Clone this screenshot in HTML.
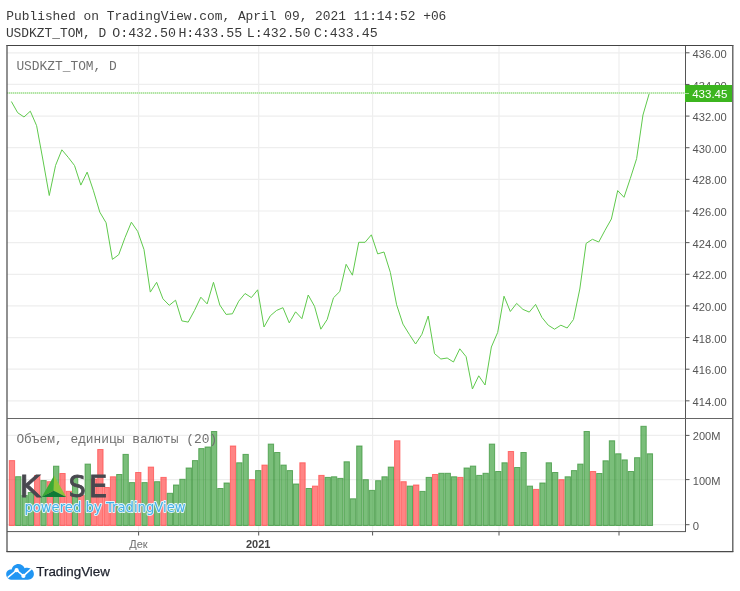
<!DOCTYPE html>
<html><head><meta charset="utf-8"><title>USDKZT_TOM</title><style>html,body{margin:0;padding:0;background:#fff;width:740px;height:591px;overflow:hidden;position:relative}</style></head><body>
<svg width="740" height="591" viewBox="0 0 740 591" style="position:absolute;left:0;top:0;will-change:transform">
<text x="6.3" y="19.6" textLength="440.04" lengthAdjust="spacingAndGlyphs" style="font-family:'Liberation Mono','DejaVu Sans Mono',monospace;font-size:13.6px" fill="#3a3a3a">Published on TradingView.com, April 09, 2021 11:14:52 +06</text>
<text x="5.9" y="37" textLength="100.36" lengthAdjust="spacingAndGlyphs" style="font-family:'Liberation Mono','DejaVu Sans Mono',monospace;font-size:13.6px" fill="#3a3a3a">USDKZT_TOM, D</text>
<text x="112.2" y="37" textLength="63.76" lengthAdjust="spacingAndGlyphs" style="font-family:'Liberation Mono','DejaVu Sans Mono',monospace;font-size:13.6px" fill="#3a3a3a">O:432.50</text>
<text x="178.4" y="37" textLength="63.76" lengthAdjust="spacingAndGlyphs" style="font-family:'Liberation Mono','DejaVu Sans Mono',monospace;font-size:13.6px" fill="#3a3a3a">H:433.55</text>
<text x="246.8" y="37" textLength="63.76" lengthAdjust="spacingAndGlyphs" style="font-family:'Liberation Mono','DejaVu Sans Mono',monospace;font-size:13.6px" fill="#3a3a3a">L:432.50</text>
<text x="313.9" y="37" textLength="63.76" lengthAdjust="spacingAndGlyphs" style="font-family:'Liberation Mono','DejaVu Sans Mono',monospace;font-size:13.6px" fill="#3a3a3a">C:433.45</text>
<line x1="7" y1="52.80" x2="685" y2="52.80" stroke="#eeeeee" stroke-width="1.2"/>
<line x1="7" y1="84.44" x2="685" y2="84.44" stroke="#eeeeee" stroke-width="1.2"/>
<line x1="7" y1="116.08" x2="685" y2="116.08" stroke="#eeeeee" stroke-width="1.2"/>
<line x1="7" y1="147.72" x2="685" y2="147.72" stroke="#eeeeee" stroke-width="1.2"/>
<line x1="7" y1="179.36" x2="685" y2="179.36" stroke="#eeeeee" stroke-width="1.2"/>
<line x1="7" y1="211.00" x2="685" y2="211.00" stroke="#eeeeee" stroke-width="1.2"/>
<line x1="7" y1="242.64" x2="685" y2="242.64" stroke="#eeeeee" stroke-width="1.2"/>
<line x1="7" y1="274.28" x2="685" y2="274.28" stroke="#eeeeee" stroke-width="1.2"/>
<line x1="7" y1="305.92" x2="685" y2="305.92" stroke="#eeeeee" stroke-width="1.2"/>
<line x1="7" y1="337.56" x2="685" y2="337.56" stroke="#eeeeee" stroke-width="1.2"/>
<line x1="7" y1="369.20" x2="685" y2="369.20" stroke="#eeeeee" stroke-width="1.2"/>
<line x1="7" y1="400.84" x2="685" y2="400.84" stroke="#eeeeee" stroke-width="1.2"/>
<line x1="7" y1="435.4" x2="685" y2="435.4" stroke="#eeeeee" stroke-width="1.2"/>
<line x1="7" y1="479.6" x2="685" y2="479.6" stroke="#eeeeee" stroke-width="1.2"/>
<line x1="7" y1="524.7" x2="685" y2="524.7" stroke="#eeeeee" stroke-width="1.2"/>
<line x1="138.6" y1="46" x2="138.6" y2="531" stroke="#eeeeee" stroke-width="1.2"/>
<line x1="258.7" y1="46" x2="258.7" y2="531" stroke="#eeeeee" stroke-width="1.2"/>
<line x1="372.6" y1="46" x2="372.6" y2="531" stroke="#eeeeee" stroke-width="1.2"/>
<line x1="499.0" y1="46" x2="499.0" y2="531" stroke="#eeeeee" stroke-width="1.2"/>
<line x1="619.0" y1="46" x2="619.0" y2="531" stroke="#eeeeee" stroke-width="1.2"/>
<rect x="9.30" y="460.60" width="5.32" height="64.90" fill="rgba(255,80,80,0.7)" stroke="rgba(255,70,70,0.7)" stroke-width="1"/>
<rect x="15.62" y="476.70" width="5.32" height="48.80" fill="rgba(70,165,70,0.72)" stroke="rgba(60,150,60,0.75)" stroke-width="1"/>
<rect x="21.93" y="495.50" width="5.32" height="30.00" fill="rgba(70,165,70,0.72)" stroke="rgba(60,150,60,0.75)" stroke-width="1"/>
<rect x="28.25" y="492.50" width="5.32" height="33.00" fill="rgba(70,165,70,0.72)" stroke="rgba(60,150,60,0.75)" stroke-width="1"/>
<rect x="34.56" y="475.50" width="5.32" height="50.00" fill="rgba(255,80,80,0.7)" stroke="rgba(255,70,70,0.7)" stroke-width="1"/>
<rect x="40.88" y="480.60" width="5.32" height="44.90" fill="rgba(70,165,70,0.72)" stroke="rgba(60,150,60,0.75)" stroke-width="1"/>
<rect x="47.20" y="481.70" width="5.32" height="43.80" fill="rgba(255,80,80,0.7)" stroke="rgba(255,70,70,0.7)" stroke-width="1"/>
<rect x="53.51" y="466.20" width="5.32" height="59.30" fill="rgba(70,165,70,0.72)" stroke="rgba(60,150,60,0.75)" stroke-width="1"/>
<rect x="59.83" y="473.50" width="5.32" height="52.00" fill="rgba(255,80,80,0.7)" stroke="rgba(255,70,70,0.7)" stroke-width="1"/>
<rect x="66.14" y="491.30" width="5.32" height="34.20" fill="rgba(255,80,80,0.7)" stroke="rgba(255,70,70,0.7)" stroke-width="1"/>
<rect x="72.46" y="477.80" width="5.32" height="47.70" fill="rgba(70,165,70,0.72)" stroke="rgba(60,150,60,0.75)" stroke-width="1"/>
<rect x="78.78" y="495.50" width="5.32" height="30.00" fill="rgba(255,80,80,0.7)" stroke="rgba(255,70,70,0.7)" stroke-width="1"/>
<rect x="85.09" y="464.10" width="5.32" height="61.40" fill="rgba(70,165,70,0.72)" stroke="rgba(60,150,60,0.75)" stroke-width="1"/>
<rect x="91.41" y="479.00" width="5.32" height="46.50" fill="rgba(255,80,80,0.7)" stroke="rgba(255,70,70,0.7)" stroke-width="1"/>
<rect x="97.72" y="449.50" width="5.32" height="76.00" fill="rgba(255,80,80,0.7)" stroke="rgba(255,70,70,0.7)" stroke-width="1"/>
<rect x="104.04" y="487.50" width="5.32" height="38.00" fill="rgba(255,80,80,0.7)" stroke="rgba(255,70,70,0.7)" stroke-width="1"/>
<rect x="110.36" y="476.80" width="5.32" height="48.70" fill="rgba(255,80,80,0.7)" stroke="rgba(255,70,70,0.7)" stroke-width="1"/>
<rect x="116.67" y="474.50" width="5.32" height="51.00" fill="rgba(70,165,70,0.72)" stroke="rgba(60,150,60,0.75)" stroke-width="1"/>
<rect x="122.99" y="454.40" width="5.32" height="71.10" fill="rgba(70,165,70,0.72)" stroke="rgba(60,150,60,0.75)" stroke-width="1"/>
<rect x="129.30" y="482.60" width="5.32" height="42.90" fill="rgba(70,165,70,0.72)" stroke="rgba(60,150,60,0.75)" stroke-width="1"/>
<rect x="135.62" y="472.50" width="5.32" height="53.00" fill="rgba(255,80,80,0.7)" stroke="rgba(255,70,70,0.7)" stroke-width="1"/>
<rect x="141.94" y="482.60" width="5.32" height="42.90" fill="rgba(70,165,70,0.72)" stroke="rgba(60,150,60,0.75)" stroke-width="1"/>
<rect x="148.25" y="467.10" width="5.32" height="58.40" fill="rgba(255,80,80,0.7)" stroke="rgba(255,70,70,0.7)" stroke-width="1"/>
<rect x="154.57" y="481.70" width="5.32" height="43.80" fill="rgba(70,165,70,0.72)" stroke="rgba(60,150,60,0.75)" stroke-width="1"/>
<rect x="160.88" y="477.40" width="5.32" height="48.10" fill="rgba(255,80,80,0.7)" stroke="rgba(255,70,70,0.7)" stroke-width="1"/>
<rect x="167.20" y="493.30" width="5.32" height="32.20" fill="rgba(70,165,70,0.72)" stroke="rgba(60,150,60,0.75)" stroke-width="1"/>
<rect x="173.52" y="485.00" width="5.32" height="40.50" fill="rgba(70,165,70,0.72)" stroke="rgba(60,150,60,0.75)" stroke-width="1"/>
<rect x="179.83" y="479.30" width="5.32" height="46.20" fill="rgba(70,165,70,0.72)" stroke="rgba(60,150,60,0.75)" stroke-width="1"/>
<rect x="186.15" y="468.00" width="5.32" height="57.50" fill="rgba(70,165,70,0.72)" stroke="rgba(60,150,60,0.75)" stroke-width="1"/>
<rect x="192.46" y="460.60" width="5.32" height="64.90" fill="rgba(70,165,70,0.72)" stroke="rgba(60,150,60,0.75)" stroke-width="1"/>
<rect x="198.78" y="448.60" width="5.32" height="76.90" fill="rgba(70,165,70,0.72)" stroke="rgba(60,150,60,0.75)" stroke-width="1"/>
<rect x="205.10" y="447.00" width="5.32" height="78.50" fill="rgba(70,165,70,0.72)" stroke="rgba(60,150,60,0.75)" stroke-width="1"/>
<rect x="211.41" y="431.50" width="5.32" height="94.00" fill="rgba(70,165,70,0.72)" stroke="rgba(60,150,60,0.75)" stroke-width="1"/>
<rect x="217.73" y="488.50" width="5.32" height="37.00" fill="rgba(70,165,70,0.72)" stroke="rgba(60,150,60,0.75)" stroke-width="1"/>
<rect x="224.04" y="483.00" width="5.32" height="42.50" fill="rgba(70,165,70,0.72)" stroke="rgba(60,150,60,0.75)" stroke-width="1"/>
<rect x="230.36" y="446.00" width="5.32" height="79.50" fill="rgba(255,80,80,0.7)" stroke="rgba(255,70,70,0.7)" stroke-width="1"/>
<rect x="236.68" y="462.80" width="5.32" height="62.70" fill="rgba(70,165,70,0.72)" stroke="rgba(60,150,60,0.75)" stroke-width="1"/>
<rect x="242.99" y="454.40" width="5.32" height="71.10" fill="rgba(70,165,70,0.72)" stroke="rgba(60,150,60,0.75)" stroke-width="1"/>
<rect x="249.31" y="479.70" width="5.32" height="45.80" fill="rgba(255,80,80,0.7)" stroke="rgba(255,70,70,0.7)" stroke-width="1"/>
<rect x="255.62" y="470.60" width="5.32" height="54.90" fill="rgba(70,165,70,0.72)" stroke="rgba(60,150,60,0.75)" stroke-width="1"/>
<rect x="261.94" y="465.10" width="5.32" height="60.40" fill="rgba(255,80,80,0.7)" stroke="rgba(255,70,70,0.7)" stroke-width="1"/>
<rect x="268.26" y="444.10" width="5.32" height="81.40" fill="rgba(70,165,70,0.72)" stroke="rgba(60,150,60,0.75)" stroke-width="1"/>
<rect x="274.57" y="452.50" width="5.32" height="73.00" fill="rgba(70,165,70,0.72)" stroke="rgba(60,150,60,0.75)" stroke-width="1"/>
<rect x="280.89" y="465.10" width="5.32" height="60.40" fill="rgba(70,165,70,0.72)" stroke="rgba(60,150,60,0.75)" stroke-width="1"/>
<rect x="287.20" y="470.60" width="5.32" height="54.90" fill="rgba(70,165,70,0.72)" stroke="rgba(60,150,60,0.75)" stroke-width="1"/>
<rect x="293.52" y="484.00" width="5.32" height="41.50" fill="rgba(70,165,70,0.72)" stroke="rgba(60,150,60,0.75)" stroke-width="1"/>
<rect x="299.84" y="462.80" width="5.32" height="62.70" fill="rgba(255,80,80,0.7)" stroke="rgba(255,70,70,0.7)" stroke-width="1"/>
<rect x="306.15" y="488.50" width="5.32" height="37.00" fill="rgba(70,165,70,0.72)" stroke="rgba(60,150,60,0.75)" stroke-width="1"/>
<rect x="312.47" y="486.10" width="5.32" height="39.40" fill="rgba(255,80,80,0.7)" stroke="rgba(255,70,70,0.7)" stroke-width="1"/>
<rect x="318.78" y="475.40" width="5.32" height="50.10" fill="rgba(255,80,80,0.7)" stroke="rgba(255,70,70,0.7)" stroke-width="1"/>
<rect x="325.10" y="477.40" width="5.32" height="48.10" fill="rgba(70,165,70,0.72)" stroke="rgba(60,150,60,0.75)" stroke-width="1"/>
<rect x="331.42" y="476.80" width="5.32" height="48.70" fill="rgba(70,165,70,0.72)" stroke="rgba(60,150,60,0.75)" stroke-width="1"/>
<rect x="337.73" y="478.40" width="5.32" height="47.10" fill="rgba(70,165,70,0.72)" stroke="rgba(60,150,60,0.75)" stroke-width="1"/>
<rect x="344.05" y="461.80" width="5.32" height="63.70" fill="rgba(70,165,70,0.72)" stroke="rgba(60,150,60,0.75)" stroke-width="1"/>
<rect x="350.36" y="498.80" width="5.32" height="26.70" fill="rgba(70,165,70,0.72)" stroke="rgba(60,150,60,0.75)" stroke-width="1"/>
<rect x="356.68" y="446.00" width="5.32" height="79.50" fill="rgba(70,165,70,0.72)" stroke="rgba(60,150,60,0.75)" stroke-width="1"/>
<rect x="363.00" y="479.70" width="5.32" height="45.80" fill="rgba(70,165,70,0.72)" stroke="rgba(60,150,60,0.75)" stroke-width="1"/>
<rect x="369.31" y="490.40" width="5.32" height="35.10" fill="rgba(70,165,70,0.72)" stroke="rgba(60,150,60,0.75)" stroke-width="1"/>
<rect x="375.63" y="480.70" width="5.32" height="44.80" fill="rgba(70,165,70,0.72)" stroke="rgba(60,150,60,0.75)" stroke-width="1"/>
<rect x="381.94" y="476.80" width="5.32" height="48.70" fill="rgba(70,165,70,0.72)" stroke="rgba(60,150,60,0.75)" stroke-width="1"/>
<rect x="388.26" y="467.10" width="5.32" height="58.40" fill="rgba(70,165,70,0.72)" stroke="rgba(60,150,60,0.75)" stroke-width="1"/>
<rect x="394.58" y="440.80" width="5.32" height="84.70" fill="rgba(255,80,80,0.7)" stroke="rgba(255,70,70,0.7)" stroke-width="1"/>
<rect x="400.89" y="481.70" width="5.32" height="43.80" fill="rgba(255,80,80,0.7)" stroke="rgba(255,70,70,0.7)" stroke-width="1"/>
<rect x="407.21" y="486.10" width="5.32" height="39.40" fill="rgba(70,165,70,0.72)" stroke="rgba(60,150,60,0.75)" stroke-width="1"/>
<rect x="413.52" y="485.00" width="5.32" height="40.50" fill="rgba(255,80,80,0.7)" stroke="rgba(255,70,70,0.7)" stroke-width="1"/>
<rect x="419.84" y="491.40" width="5.32" height="34.10" fill="rgba(70,165,70,0.72)" stroke="rgba(60,150,60,0.75)" stroke-width="1"/>
<rect x="426.16" y="477.40" width="5.32" height="48.10" fill="rgba(70,165,70,0.72)" stroke="rgba(60,150,60,0.75)" stroke-width="1"/>
<rect x="432.47" y="474.50" width="5.32" height="51.00" fill="rgba(255,80,80,0.7)" stroke="rgba(255,70,70,0.7)" stroke-width="1"/>
<rect x="438.79" y="473.30" width="5.32" height="52.20" fill="rgba(70,165,70,0.72)" stroke="rgba(60,150,60,0.75)" stroke-width="1"/>
<rect x="445.10" y="473.30" width="5.32" height="52.20" fill="rgba(70,165,70,0.72)" stroke="rgba(60,150,60,0.75)" stroke-width="1"/>
<rect x="451.42" y="476.80" width="5.32" height="48.70" fill="rgba(70,165,70,0.72)" stroke="rgba(60,150,60,0.75)" stroke-width="1"/>
<rect x="457.74" y="477.40" width="5.32" height="48.10" fill="rgba(255,80,80,0.7)" stroke="rgba(255,70,70,0.7)" stroke-width="1"/>
<rect x="464.05" y="468.00" width="5.32" height="57.50" fill="rgba(70,165,70,0.72)" stroke="rgba(60,150,60,0.75)" stroke-width="1"/>
<rect x="470.37" y="466.10" width="5.32" height="59.40" fill="rgba(70,165,70,0.72)" stroke="rgba(60,150,60,0.75)" stroke-width="1"/>
<rect x="476.68" y="475.40" width="5.32" height="50.10" fill="rgba(70,165,70,0.72)" stroke="rgba(60,150,60,0.75)" stroke-width="1"/>
<rect x="483.00" y="473.30" width="5.32" height="52.20" fill="rgba(70,165,70,0.72)" stroke="rgba(60,150,60,0.75)" stroke-width="1"/>
<rect x="489.32" y="444.10" width="5.32" height="81.40" fill="rgba(70,165,70,0.72)" stroke="rgba(60,150,60,0.75)" stroke-width="1"/>
<rect x="495.63" y="471.50" width="5.32" height="54.00" fill="rgba(70,165,70,0.72)" stroke="rgba(60,150,60,0.75)" stroke-width="1"/>
<rect x="501.95" y="462.80" width="5.32" height="62.70" fill="rgba(70,165,70,0.72)" stroke="rgba(60,150,60,0.75)" stroke-width="1"/>
<rect x="508.26" y="451.50" width="5.32" height="74.00" fill="rgba(255,80,80,0.7)" stroke="rgba(255,70,70,0.7)" stroke-width="1"/>
<rect x="514.58" y="467.50" width="5.32" height="58.00" fill="rgba(70,165,70,0.72)" stroke="rgba(60,150,60,0.75)" stroke-width="1"/>
<rect x="520.90" y="452.50" width="5.32" height="73.00" fill="rgba(70,165,70,0.72)" stroke="rgba(60,150,60,0.75)" stroke-width="1"/>
<rect x="527.21" y="486.10" width="5.32" height="39.40" fill="rgba(70,165,70,0.72)" stroke="rgba(60,150,60,0.75)" stroke-width="1"/>
<rect x="533.53" y="489.40" width="5.32" height="36.10" fill="rgba(255,80,80,0.7)" stroke="rgba(255,70,70,0.7)" stroke-width="1"/>
<rect x="539.84" y="483.00" width="5.32" height="42.50" fill="rgba(70,165,70,0.72)" stroke="rgba(60,150,60,0.75)" stroke-width="1"/>
<rect x="546.16" y="462.80" width="5.32" height="62.70" fill="rgba(70,165,70,0.72)" stroke="rgba(60,150,60,0.75)" stroke-width="1"/>
<rect x="552.48" y="472.50" width="5.32" height="53.00" fill="rgba(70,165,70,0.72)" stroke="rgba(60,150,60,0.75)" stroke-width="1"/>
<rect x="558.79" y="479.70" width="5.32" height="45.80" fill="rgba(255,80,80,0.7)" stroke="rgba(255,70,70,0.7)" stroke-width="1"/>
<rect x="565.11" y="476.80" width="5.32" height="48.70" fill="rgba(70,165,70,0.72)" stroke="rgba(60,150,60,0.75)" stroke-width="1"/>
<rect x="571.42" y="470.60" width="5.32" height="54.90" fill="rgba(70,165,70,0.72)" stroke="rgba(60,150,60,0.75)" stroke-width="1"/>
<rect x="577.74" y="464.10" width="5.32" height="61.40" fill="rgba(70,165,70,0.72)" stroke="rgba(60,150,60,0.75)" stroke-width="1"/>
<rect x="584.06" y="431.50" width="5.32" height="94.00" fill="rgba(70,165,70,0.72)" stroke="rgba(60,150,60,0.75)" stroke-width="1"/>
<rect x="590.37" y="471.50" width="5.32" height="54.00" fill="rgba(255,80,80,0.7)" stroke="rgba(255,70,70,0.7)" stroke-width="1"/>
<rect x="596.69" y="473.50" width="5.32" height="52.00" fill="rgba(70,165,70,0.72)" stroke="rgba(60,150,60,0.75)" stroke-width="1"/>
<rect x="603.00" y="460.80" width="5.32" height="64.70" fill="rgba(70,165,70,0.72)" stroke="rgba(60,150,60,0.75)" stroke-width="1"/>
<rect x="609.32" y="440.80" width="5.32" height="84.70" fill="rgba(70,165,70,0.72)" stroke="rgba(60,150,60,0.75)" stroke-width="1"/>
<rect x="615.64" y="453.80" width="5.32" height="71.70" fill="rgba(70,165,70,0.72)" stroke="rgba(60,150,60,0.75)" stroke-width="1"/>
<rect x="621.95" y="459.90" width="5.32" height="65.60" fill="rgba(70,165,70,0.72)" stroke="rgba(60,150,60,0.75)" stroke-width="1"/>
<rect x="628.27" y="471.50" width="5.32" height="54.00" fill="rgba(70,165,70,0.72)" stroke="rgba(60,150,60,0.75)" stroke-width="1"/>
<rect x="634.58" y="457.70" width="5.32" height="67.80" fill="rgba(70,165,70,0.72)" stroke="rgba(60,150,60,0.75)" stroke-width="1"/>
<rect x="640.90" y="426.30" width="5.32" height="99.20" fill="rgba(70,165,70,0.72)" stroke="rgba(60,150,60,0.75)" stroke-width="1"/>
<rect x="647.22" y="453.80" width="5.32" height="71.70" fill="rgba(70,165,70,0.72)" stroke="rgba(60,150,60,0.75)" stroke-width="1"/>
<polyline points="11.36,101.50 17.67,112.70 23.99,117.00 30.31,111.20 36.62,125.70 42.94,160.00 49.25,195.50 55.57,165.40 61.89,149.80 68.20,157.30 74.52,165.50 80.83,185.10 87.15,172.10 93.47,190.80 99.78,212.10 106.10,222.80 112.41,259.40 118.73,254.70 125.05,237.50 131.36,222.20 137.68,231.40 143.99,249.50 150.31,292.10 156.63,282.30 162.94,298.80 169.26,305.30 175.57,300.20 181.89,320.90 188.21,322.10 194.52,310.40 200.84,297.20 207.15,303.90 213.47,282.30 219.79,305.00 226.10,314.40 232.42,313.80 238.73,301.20 245.05,293.50 251.37,297.60 257.68,289.80 264.00,327.00 270.31,315.80 276.63,310.40 282.95,307.70 289.26,322.90 295.58,311.80 301.89,318.70 308.21,295.00 314.53,306.30 320.84,329.20 327.16,319.50 333.47,297.80 339.79,291.50 346.11,264.30 352.42,275.20 358.74,242.30 365.05,242.30 371.37,234.80 377.69,253.90 384.00,252.00 390.32,272.30 396.63,304.80 402.95,324.10 409.27,334.30 415.58,344.00 421.90,334.30 428.21,316.00 434.53,353.60 440.85,359.00 447.16,358.00 453.48,362.00 459.79,348.80 466.11,356.70 472.43,389.00 478.74,375.80 485.06,385.00 491.37,347.00 497.69,332.40 504.01,296.20 510.32,311.50 516.64,303.40 522.95,309.40 529.27,312.10 535.59,304.40 541.90,317.40 548.22,325.20 554.53,329.20 560.85,325.20 567.17,328.00 573.48,319.50 579.80,289.00 586.11,243.40 592.43,239.30 598.75,242.00 605.06,230.20 611.38,219.00 617.69,190.60 624.01,197.30 630.33,178.40 636.64,158.60 642.96,115.00 649.27,93.30" fill="none" stroke="#5fc94c" stroke-width="1" stroke-linejoin="round"/>
<line x1="7" y1="93" x2="685" y2="93" stroke="#d2f0ca" stroke-width="1.6"/>
<line x1="7" y1="93" x2="685" y2="93" stroke="#86d373" stroke-width="1.2" stroke-dasharray="1 1"/>
<text x="16.4" y="69.9" textLength="100.36" lengthAdjust="spacingAndGlyphs" style="font-family:'Liberation Mono','DejaVu Sans Mono',monospace;font-size:13.2px" fill="#707070">USDKZT_TOM, D</text>
<text x="16.4" y="442.6" textLength="200.72" lengthAdjust="spacingAndGlyphs" style="font-family:'Liberation Mono','DejaVu Sans Mono',monospace;font-size:13.0px" fill="#707070">Объем, единицы валюты (20)</text>
<line x1="6.5" y1="45.5" x2="733.3" y2="45.5" stroke="#444" stroke-width="1"/>
<line x1="7" y1="45" x2="7" y2="552" stroke="#555" stroke-width="1.3"/>
<line x1="732.8" y1="45" x2="732.8" y2="552" stroke="#555" stroke-width="1.3"/>
<line x1="6.5" y1="551.7" x2="733.3" y2="551.7" stroke="#4a4a4a" stroke-width="1.2"/>
<line x1="685.5" y1="46" x2="685.5" y2="532" stroke="#555" stroke-width="1"/>
<line x1="7" y1="418.5" x2="733" y2="418.5" stroke="#666" stroke-width="1"/>
<line x1="7" y1="531.6" x2="686" y2="531.6" stroke="#555" stroke-width="1"/>
<line x1="686" y1="52.80" x2="689.5" y2="52.80" stroke="#555" stroke-width="1"/>
<text x="692.6" y="57.90" textLength="34.2" lengthAdjust="spacingAndGlyphs" style="font-family:'Liberation Sans',Arial,sans-serif;font-size:11px" fill="#555">436.00</text>
<line x1="686" y1="84.44" x2="689.5" y2="84.44" stroke="#555" stroke-width="1"/>
<text x="692.6" y="89.54" textLength="34.2" lengthAdjust="spacingAndGlyphs" style="font-family:'Liberation Sans',Arial,sans-serif;font-size:11px" fill="#555">434.00</text>
<line x1="686" y1="116.08" x2="689.5" y2="116.08" stroke="#555" stroke-width="1"/>
<text x="692.6" y="121.18" textLength="34.2" lengthAdjust="spacingAndGlyphs" style="font-family:'Liberation Sans',Arial,sans-serif;font-size:11px" fill="#555">432.00</text>
<line x1="686" y1="147.72" x2="689.5" y2="147.72" stroke="#555" stroke-width="1"/>
<text x="692.6" y="152.82" textLength="34.2" lengthAdjust="spacingAndGlyphs" style="font-family:'Liberation Sans',Arial,sans-serif;font-size:11px" fill="#555">430.00</text>
<line x1="686" y1="179.36" x2="689.5" y2="179.36" stroke="#555" stroke-width="1"/>
<text x="692.6" y="184.46" textLength="34.2" lengthAdjust="spacingAndGlyphs" style="font-family:'Liberation Sans',Arial,sans-serif;font-size:11px" fill="#555">428.00</text>
<line x1="686" y1="211.00" x2="689.5" y2="211.00" stroke="#555" stroke-width="1"/>
<text x="692.6" y="216.10" textLength="34.2" lengthAdjust="spacingAndGlyphs" style="font-family:'Liberation Sans',Arial,sans-serif;font-size:11px" fill="#555">426.00</text>
<line x1="686" y1="242.64" x2="689.5" y2="242.64" stroke="#555" stroke-width="1"/>
<text x="692.6" y="247.74" textLength="34.2" lengthAdjust="spacingAndGlyphs" style="font-family:'Liberation Sans',Arial,sans-serif;font-size:11px" fill="#555">424.00</text>
<line x1="686" y1="274.28" x2="689.5" y2="274.28" stroke="#555" stroke-width="1"/>
<text x="692.6" y="279.38" textLength="34.2" lengthAdjust="spacingAndGlyphs" style="font-family:'Liberation Sans',Arial,sans-serif;font-size:11px" fill="#555">422.00</text>
<line x1="686" y1="305.92" x2="689.5" y2="305.92" stroke="#555" stroke-width="1"/>
<text x="692.6" y="311.02" textLength="34.2" lengthAdjust="spacingAndGlyphs" style="font-family:'Liberation Sans',Arial,sans-serif;font-size:11px" fill="#555">420.00</text>
<line x1="686" y1="337.56" x2="689.5" y2="337.56" stroke="#555" stroke-width="1"/>
<text x="692.6" y="342.66" textLength="34.2" lengthAdjust="spacingAndGlyphs" style="font-family:'Liberation Sans',Arial,sans-serif;font-size:11px" fill="#555">418.00</text>
<line x1="686" y1="369.20" x2="689.5" y2="369.20" stroke="#555" stroke-width="1"/>
<text x="692.6" y="374.30" textLength="34.2" lengthAdjust="spacingAndGlyphs" style="font-family:'Liberation Sans',Arial,sans-serif;font-size:11px" fill="#555">416.00</text>
<line x1="686" y1="400.84" x2="689.5" y2="400.84" stroke="#555" stroke-width="1"/>
<text x="692.6" y="405.94" textLength="34.2" lengthAdjust="spacingAndGlyphs" style="font-family:'Liberation Sans',Arial,sans-serif;font-size:11px" fill="#555">414.00</text>
<line x1="686" y1="435.4" x2="689.5" y2="435.4" stroke="#555" stroke-width="1"/>
<text x="692.8" y="440.40" textLength="27.7" lengthAdjust="spacingAndGlyphs" style="font-family:'Liberation Sans',Arial,sans-serif;font-size:11px" fill="#555">200M</text>
<line x1="686" y1="479.6" x2="689.5" y2="479.6" stroke="#555" stroke-width="1"/>
<text x="692.8" y="484.60" textLength="27.7" lengthAdjust="spacingAndGlyphs" style="font-family:'Liberation Sans',Arial,sans-serif;font-size:11px" fill="#555">100M</text>
<line x1="686" y1="524.7" x2="689.5" y2="524.7" stroke="#555" stroke-width="1"/>
<text x="692.8" y="529.70" textLength="6.3" lengthAdjust="spacingAndGlyphs" style="font-family:'Liberation Sans',Arial,sans-serif;font-size:11px" fill="#555">0</text>
<rect x="685" y="85" width="47" height="17" fill="#3cb51f"/>
<line x1="685" y1="93.5" x2="689" y2="93.5" stroke="rgba(255,255,255,0.55)" stroke-width="1"/>
<text x="692.2" y="98.2" textLength="35.2" lengthAdjust="spacingAndGlyphs" style="font-family:'Liberation Sans',Arial,sans-serif;font-size:11.3px" fill="#fff">433.45</text>
<line x1="138.6" y1="532" x2="138.6" y2="535.5" stroke="#555" stroke-width="1"/>
<line x1="258.7" y1="532" x2="258.7" y2="535.5" stroke="#555" stroke-width="1"/>
<line x1="372.6" y1="532" x2="372.6" y2="535.5" stroke="#555" stroke-width="1"/>
<line x1="499.0" y1="532" x2="499.0" y2="535.5" stroke="#555" stroke-width="1"/>
<line x1="619.0" y1="532" x2="619.0" y2="535.5" stroke="#555" stroke-width="1"/>
<text x="138.4" y="547.5" text-anchor="middle" style="font-family:'Liberation Sans',Arial,sans-serif;font-size:11px" fill="#707070">Дек</text>
<text x="258.2" y="547.5" text-anchor="middle" style="font-family:'Liberation Sans',Arial,sans-serif;font-size:11px;font-weight:bold" fill="#444">2021</text>
<text transform="translate(19.5,496.6) scale(1.08,1)" style="font-family:'DejaVu Sans','Liberation Sans',sans-serif;font-size:29.5px" fill="#48484f" stroke="#48484f" stroke-width="0.8">K</text>
<g><polygon points="54.1,475.6 41.8,497 53.6,490.7" fill="#3aa935"/><polygon points="54.1,475.6 66.2,497 53.6,490.7" fill="#8fc33a"/><polygon points="41.8,497 53.6,490.7 66.2,497" fill="#0e7a35"/></g>
<text transform="translate(68.6,496.6) scale(0.93,1)" style="font-family:'DejaVu Sans','Liberation Sans',sans-serif;font-size:29.5px" fill="#48484f" stroke="#48484f" stroke-width="0.8">S</text>
<text x="88.7" y="496.6" style="font-family:'DejaVu Sans','Liberation Sans',sans-serif;font-size:29.5px" fill="#48484f" stroke="#48484f" stroke-width="0.8">E</text>
<text x="24.4" y="511.6" style="font-family:'DejaVu Sans','Liberation Sans',sans-serif;font-size:13.2px" fill="#45b1e6" stroke="#e2f3fb" stroke-width="1.8" paint-order="stroke" stroke-linejoin="round">powered by TradingView</text>
<g transform="translate(6,563)"><path d="M6.5 16.7 C2.6 16.7 0.2 14.4 0.2 11.4 C0.2 8.4 2.6 6.4 5.6 6.6 C6.4 3.2 9.2 1 12.3 1 C15.3 1 17.6 2.8 18.6 5.3 C19.4 4.9 20.3 4.8 21.2 4.8 C25 4.8 27.9 7.6 27.9 11 C27.9 14.3 25.3 16.7 21.9 16.7 Z" fill="#2196f3"/><polyline points="1.6,14.6 10.6,7.2 17.4,12.9 25.5,5.6" fill="none" stroke="#fff" stroke-width="1.5"/><circle cx="10.6" cy="7.2" r="2.1" fill="#fff"/><circle cx="17.4" cy="12.9" r="2.1" fill="#fff"/></g>
<text x="36.3" y="576.2" textLength="73.6" lengthAdjust="spacingAndGlyphs" style="font-family:'Liberation Sans',Arial,sans-serif;font-size:13.4px" fill="#1e222d" stroke="#1e222d" stroke-width="0.25">TradingView</text>
</svg>
</body></html>
